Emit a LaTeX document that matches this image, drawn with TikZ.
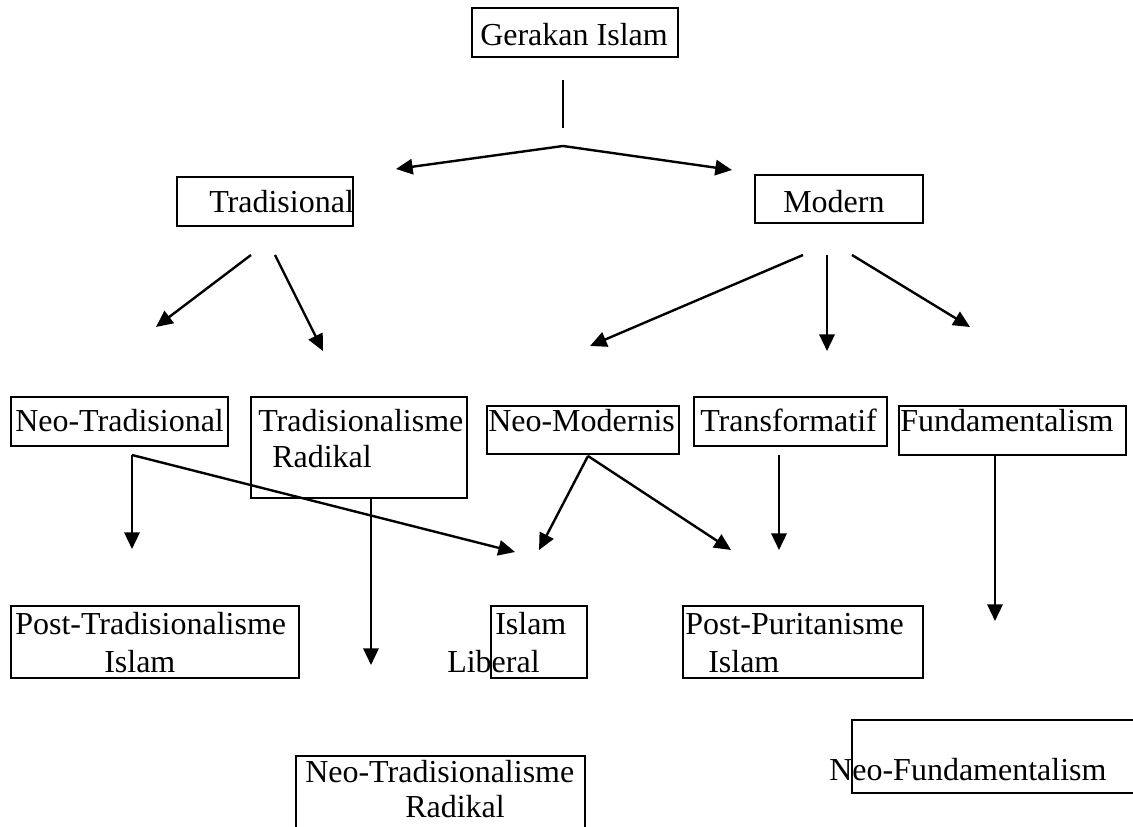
\documentclass[tikz,border=0pt]{standalone}
\usepackage{fontspec}
\setmainfont{Liberation Serif}
\usetikzlibrary{arrows.meta,fit}

\begin{document}
\begin{tikzpicture}[
  x=0.75pt, y=-0.75pt,
  kotak/.style={draw, line width=1.1pt, inner sep=0pt},
  teks/.style={anchor=base west, inner sep=0pt, font=\fontsize{24}{28}\selectfont},
  panah/.style={-{Triangle[length=12.5pt,width=11.5pt]}, line width=1.8pt},
]
\clip (0,0) rectangle (1133,827);
\fill[white] (0,0) rectangle (1133,827);

% boxes
\node[kotak, fit={(472,8) (678,57)}]      (gi)   {};
\node[kotak, fit={(177,177) (353,226)}]   (trad) {};
\node[kotak, fit={(755,175) (923,223)}]   (mod)  {};
\node[kotak, fit={(11,397) (228,446)}]    (ntrad) {};
\node[kotak, fit={(251,397) (467,498)}]   (trad-rad) {};
\node[kotak, fit={(487,406) (679,454)}]   (nmod) {};
\node[kotak, fit={(694,397) (887,446)}]   (trf)  {};
\node[kotak, fit={(899,406) (1126,455)}]  (fund) {};
\node[kotak, fit={(11,606) (299,678)}]    (ptrad) {};
\node[kotak, fit={(491,606) (587,678)}]   (islib) {};
\node[kotak, fit={(683,606) (923,678)}]   (ppur) {};
\node[kotak, fit={(296,756) (585,850)}]   (ntrad-rad) {};
\node[kotak, fit={(852,720) (1145,793)}]  (nfund) {};

% texts
\node[teks] (t-gi)    at (480,46)  {Gerakan Islam};
\node[teks] (t-trad)  at (209,213) {Tradisional};
\node[teks] (t-mod)   at (783,213) {Modern};
\node[teks] (t-ntrad) at (15,432)  {Neo-Tradisional};
\node[teks] (t-tr1)   at (258,432) {Tradisionalisme};
\node[teks] (t-tr2)   at (272,468) {Radikal};
\node[teks] (t-nmod)  at (488,432) {Neo-Modernis};
\node[teks] (t-trf)   at (700,432) {Transformatif};
\node[teks] (t-fund)  at (900,432) {Fundamentalism};
\node[teks] (t-pt1)   at (15,634)  {Post-Tradisionalisme};
\node[teks] (t-pt2)   at (104,672) {Islam};
\node[teks] (t-il1)   at (495,634) {Islam};
\node[teks] (t-il2)   at (447,672) {Liberal};
\node[teks] (t-pp1)   at (685,634) {Post-Puritanisme};
\node[teks] (t-pp2)   at (708,672) {Islam};
\node[teks] (t-ntr1)  at (305,782) {Neo-Tradisionalisme};
\node[teks] (t-ntr2)  at (405,817) {Radikal};
\node[teks] (t-nfund) at (829,780) {Neo-Fundamentalism};

% connector ends
\coordinate (gi-a) at (563,80);
\coordinate (gi-b) at (563,128);
\coordinate (apex) at (563,146);
\coordinate (kiri) at (396,169);
\coordinate (kanan) at (732,170);
\coordinate (t1) at (251,255);  \coordinate (t1e) at (156,327);
\coordinate (t2) at (275,255);  \coordinate (t2e) at (323,351);
\coordinate (m1) at (803,255);  \coordinate (m1e) at (590,346);
\coordinate (m2) at (827,255);  \coordinate (m2e) at (827,351);
\coordinate (m3) at (852,255);  \coordinate (m3e) at (970,327);
\coordinate (nt) at (132,455);  \coordinate (nte1) at (132,549);
\coordinate (nte2) at (515,552);
\coordinate (tr) at (371,498);  \coordinate (tre) at (371,665);
\coordinate (nm) at (588,456);  \coordinate (nme1) at (539,550);
\coordinate (nme2) at (731,550);
\coordinate (tf) at (779,455);  \coordinate (tfe) at (779,550);
\coordinate (fd) at (995,455);  \coordinate (fde) at (995,621);

\draw[line width=0.8pt] (gi-a) -- (gi-b);
\foreach \a/\b in {apex/kiri,apex/kanan,t1/t1e,t2/t2e,m1/m1e,m2/m2e,m3/m3e,
                   nt/nte1,nt/nte2,tr/tre,nm/nme1,nm/nme2,tf/tfe,fd/fde}{
  \draw[panah] (\a) -- (\b);
}
\end{tikzpicture}
\end{document}
